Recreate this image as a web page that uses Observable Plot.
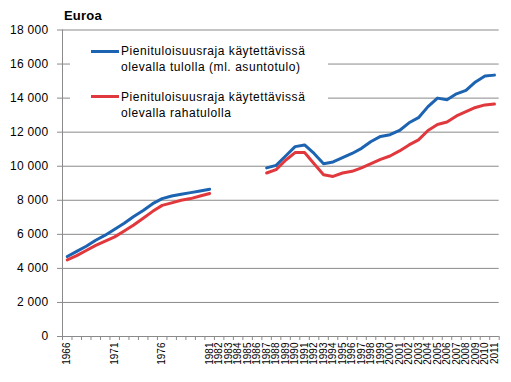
<!DOCTYPE html>
<html><head><meta charset="utf-8">
<script src="https://cdn.jsdelivr.net/npm/d3@7"></script>
<script src="https://cdn.jsdelivr.net/npm/@observablehq/plot@0.6"></script>
<style>
body{margin:0;background:#fff;}
#wrap{position:relative;width:511px;height:382px;font-family:"Liberation Sans",Arial,sans-serif;}
#title{position:absolute;left:64px;top:9px;font-weight:bold;font-size:13px;line-height:13px;color:#000;letter-spacing:0.2px;}
#legend{position:absolute;left:70px;top:35px;width:258px;height:93px;background:#fff;}
.sw{position:absolute;left:21px;width:28px;height:3px;}
.lab{position:absolute;left:51px;font-size:12px;line-height:15.7px;white-space:nowrap;letter-spacing:0.55px;color:#000;}
g[aria-label="y-axis tick label"] text{letter-spacing:0.3px;}
</style>
</head><body>
<div id="wrap">
  <div id="chart"></div>
  <div id="title"></div>
  <div id="legend"></div>
</div>
<script>
const years = [1966,1967,1968,1969,1970,1971,1972,1973,1974,1975,1976,1977,1978,1979,1980,1981,
  1982,1983,1984,1985,1986,1987,1988,1989,1990,1991,1992,1993,1994,1995,1996,1997,1998,1999,
  2000,2001,2002,2003,2004,2005,2006,2007,2008,2009,2010,2011];
// Pienituloisuusraja käytettävissä olevalla tulolla (ml. asuntotulo)
const totalIncome = [4700,5000,5300,5650,5950,6300,6650,7050,7400,7800,8100,8250,8350,8450,8550,8650,
  null,null,null,null,null,9900,10050,10600,11150,11250,10750,10150,10250,10500,10750,11050,11450,11750,
  11850,12100,12550,12850,13500,14000,13900,14250,14450,14950,15300,15350];
// Pienituloisuusraja käytettävissä olevalla rahatulolla
const cashIncome = [4500,4750,5050,5350,5600,5850,6200,6550,6950,7350,7700,7850,8000,8100,8250,8400,
  null,null,null,null,null,9600,9800,10350,10800,10800,10150,9500,9400,9600,9700,9900,10150,10400,
  10600,10900,11250,11550,12100,12450,12600,12950,13200,13450,13600,13650];
const xLabelYears = [1966,1971,1976,1981,1982,1983,1984,1985,1986,1987,1988,1989,1990,1991,1992,1993,
  1994,1995,1996,1997,1998,1999,2000,2001,2002,2003,2004,2005,2006,2007,2008,2009,2010,2011];
const yTicks = [0,2000,4000,6000,8000,10000,12000,14000,16000,18000];
const seriesNames = [
  ["Pienituloisuusraja käytettävissä", "olevalla tulolla (ml. asuntotulo)"],
  ["Pienituloisuusraja käytettävissä", "olevalla rahatulolla"]
];
const seriesColors = ["#1c63b2", "#e0383d"];
const titleText = "Euroa";

const rows = years.map((year, i) => ({year, total: totalIncome[i], cash: cashIncome[i]}));
const bounds = years.map(y => y - 0.5).concat([years[years.length - 1] + 0.5]);
const fmt = d => d3.format(",")(d).replace(/,/g, " ");
const gray = "#8a8a8a";

const chart = Plot.plot({
  width: 511, height: 382,
  marginLeft: 62, marginRight: 12.3, marginTop: 29.5, marginBottom: 46,
  style: {fontFamily: "Liberation Sans, Arial, sans-serif", background: "#fff", color: "#000"},
  x: {type: "linear", domain: [bounds[0], bounds[bounds.length - 1]]},
  y: {domain: [0, 18000]},
  marks: [
    Plot.gridY(yTicks, {stroke: gray, strokeOpacity: 1}),
    Plot.ruleX([bounds[0]], {stroke: gray}),
    Plot.ruleY([0], {stroke: gray}),
    Plot.axisY(yTicks, {tickSize: 5, tickPadding: 9, tickFormat: fmt, fontSize: 12, stroke: gray, label: null}),
    Plot.axisX(bounds, {tickSize: 4, tickFormat: () => "", stroke: gray, label: null}),
    Plot.axisX(xLabelYears, {tickSize: 0, tickPadding: 6, tickRotate: -90, fontSize: 10, label: null, tickFormat: d => String(d)}),
    Plot.line(rows, {x: "year", y: "total", stroke: seriesColors[0], strokeWidth: 3}),
    Plot.line(rows, {x: "year", y: "cash", stroke: seriesColors[1], strokeWidth: 3})
  ]
});
document.getElementById("chart").appendChild(chart);
document.getElementById("title").textContent = titleText;

const legend = document.getElementById("legend");
const swTops = [14.8, 60.2];
const labTops = [9.3, 55];
seriesNames.forEach((lines, i) => {
  const sw = document.createElement("div");
  sw.className = "sw";
  sw.style.top = swTops[i] + "px";
  sw.style.background = seriesColors[i];
  legend.appendChild(sw);
  const lab = document.createElement("div");
  lab.className = "lab";
  lab.style.top = labTops[i] + "px";
  lab.innerHTML = lines.join("<br>");
  legend.appendChild(lab);
});
</script>
</body></html>
